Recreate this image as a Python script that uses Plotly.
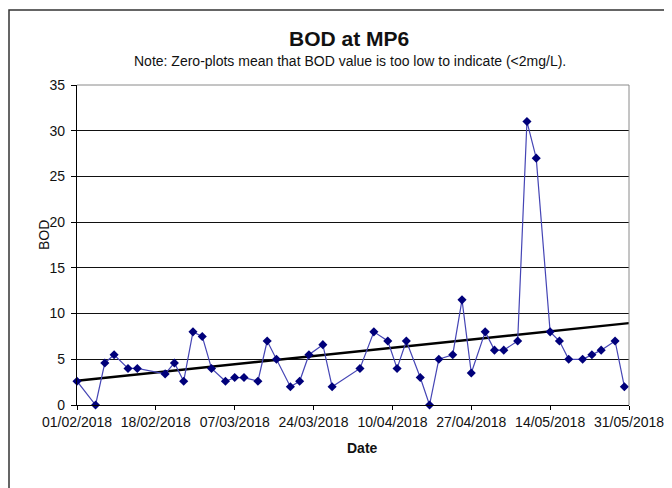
import numpy as np
import pandas as pd
import plotly.graph_objects as go

dates = ["2018-02-01","2018-02-05","2018-02-07","2018-02-09","2018-02-12","2018-02-14",
         "2018-02-20","2018-02-22","2018-02-24","2018-02-26","2018-02-28","2018-03-02",
         "2018-03-05","2018-03-07","2018-03-09","2018-03-12","2018-03-14","2018-03-16",
         "2018-03-19","2018-03-21","2018-03-23","2018-03-26","2018-03-28","2018-04-03",
         "2018-04-06","2018-04-09","2018-04-11","2018-04-13","2018-04-16","2018-04-18",
         "2018-04-20","2018-04-23","2018-04-25","2018-04-27","2018-04-30","2018-05-02",
         "2018-05-04","2018-05-07","2018-05-09","2018-05-11","2018-05-14","2018-05-16",
         "2018-05-18","2018-05-21","2018-05-23","2018-05-25","2018-05-28","2018-05-30"]
bod = [2.6, 0, 4.6, 5.5, 4, 4, 3.4, 4.6, 2.6, 8, 7.5, 4,
       2.6, 3, 3, 2.6, 7, 5, 2, 2.6, 5.5, 6.6, 2, 4,
       8, 7, 4, 7, 3, 0, 5, 5.5, 11.5, 3.5, 8, 6,
       6, 7, 31, 27, 8, 7, 5, 5, 5.5, 6, 7, 2]
tick_dates = ["2018-02-01","2018-02-18","2018-03-07","2018-03-24",
              "2018-04-10","2018-04-27","2018-05-14","2018-05-31"]
tick_labels = ["01/02/2018","18/02/2018","07/03/2018","24/03/2018",
               "10/04/2018","27/04/2018","14/05/2018","31/05/2018"]
y_ticks = [0, 5, 10, 15, 20, 25, 30, 35]

dt = pd.to_datetime(dates)
t0 = pd.Timestamp(tick_dates[0])
days = np.array([(d - t0).days for d in dt], dtype=float)
slope, intercept = np.polyfit(days, np.array(bod, dtype=float), 1)
trend_x = [pd.Timestamp(tick_dates[0]), pd.Timestamp(tick_dates[-1])]
trend_d = np.array([0, (trend_x[1] - t0).days], dtype=float)
trend_y = slope * trend_d + intercept

fig = go.Figure()
fig.add_trace(go.Scatter(x=trend_x, y=trend_y, mode="lines",
                         line=dict(color="black", width=2.4), showlegend=False,
                         hoverinfo="skip", cliponaxis=False))
fig.add_trace(go.Scatter(x=dt, y=bod, mode="lines+markers",
                         line=dict(color="#4545b5", width=1.2),
                         marker=dict(symbol="diamond", size=7, color="#00007a"),
                         showlegend=False, cliponaxis=False))

font = "Liberation Sans, Arial, sans-serif"
# page body has an 8px margin, so the margins compensate for that offset
L, T, R, B = 77, 85, 629, 405
PW, PH = R - L, B - T
fig.update_layout(
    width=672, height=488,
    margin=dict(l=L - 8, r=672 + 8 - R, t=T - 8, b=488 + 8 - B),
    paper_bgcolor="white", plot_bgcolor="white",
    font=dict(family=font, size=14, color="#111111"),
    xaxis=dict(type="date", range=[tick_dates[0], tick_dates[-1]],
               tickvals=tick_dates, ticktext=tick_labels, showgrid=False,
               showline=True, linecolor="black", linewidth=1.3,
               ticks="outside", ticklen=4, tickcolor="black",
               tickfont=dict(size=14), zeroline=False),
    yaxis=dict(range=[0, 35], tickvals=y_ticks, showgrid=True,
               gridcolor="#111111", gridwidth=1.3,
               showline=True, linecolor="black", linewidth=1.3,
               ticks="outside", ticklen=5, tickcolor="black",
               ticklabelstandoff=3,
               tickfont=dict(size=14), zeroline=False),
    shapes=[
        dict(type="line", xref="paper", yref="paper", x0=0, x1=1, y0=1, y1=1,
             line=dict(color="#8a8a8a", width=1)),
        dict(type="line", xref="paper", yref="paper", x0=1, x1=1, y0=0, y1=1,
             line=dict(color="#8a8a8a", width=1)),
        dict(type="rect", xref="paper", yref="paper",
             x0=(9 - L) / PW, x1=(700 - L) / PW,
             y0=(B - 520) / PH, y1=(B - 10) / PH,
             line=dict(color="#333333", width=1.5), layer="below"),
    ],
    annotations=[
        dict(text="<b>BOD at MP6</b>", xref="paper", yref="paper",
             x=(349 - L) / PW, y=(B - 39) / PH, xanchor="center", yanchor="middle",
             showarrow=False, font=dict(size=21, family=font)),
        dict(text="Note: Zero-plots mean that BOD value is too low to indicate (<2mg/L).",
             xref="paper", yref="paper",
             x=(350 - L) / PW, y=(B - 61) / PH, xanchor="center", yanchor="middle",
             showarrow=False, font=dict(size=14, family=font)),
        dict(text="BOD", xref="paper", yref="paper", textangle=-90,
             x=(44 - L) / PW, y=(B - 235) / PH, xanchor="center", yanchor="middle",
             showarrow=False, font=dict(size=14, family=font)),
        dict(text="<b>Date</b>", xref="paper", yref="paper",
             x=(362 - L) / PW, y=(B - 448) / PH, xanchor="center", yanchor="middle",
             showarrow=False, font=dict(size=14, family=font)),
    ],
)
fig.write_html("out.html")
